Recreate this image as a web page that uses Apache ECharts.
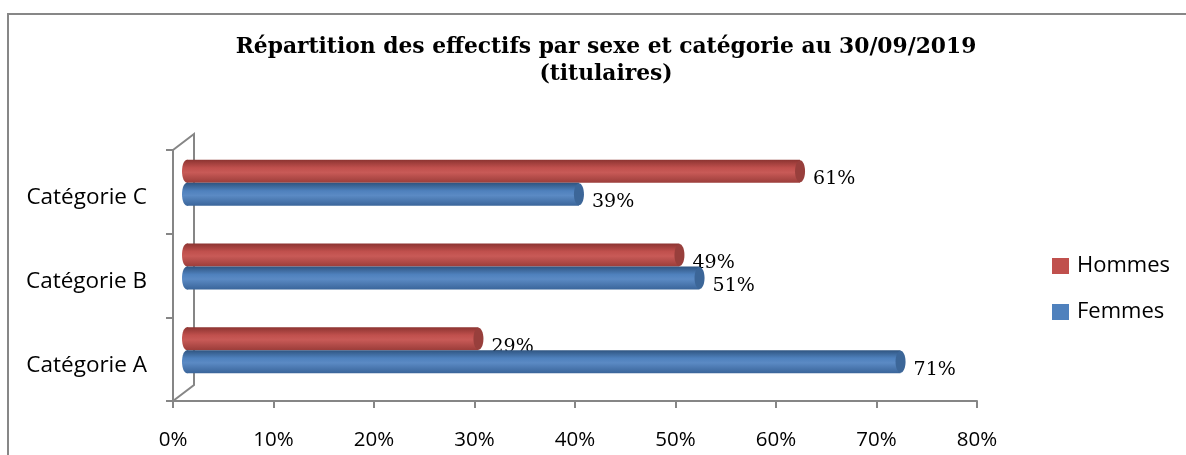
<!DOCTYPE html>
<html>
<head>
    <meta charset="utf-8">
    <title>Effectifs par sexe</title>
    <script src="https://cdn.jsdelivr.net/npm/echarts@6/dist/echarts.min.js"></script>
    <style>
        html, body { margin: 0; padding: 0; background: #fff; }
        #box { width: 1186px; height: 455px; }
    </style>
</head>
<body>
    <div id="box"></div>
    <script>
        // donnees
        var categories = ['Catégorie A', 'Catégorie B', 'Catégorie C'];
        var femmes = [71, 51, 39];
        var hommes = [29, 49, 61];
        var xTicks = [0, 10, 20, 30, 40, 50, 60, 70, 80];

        // cadre de l'axe (face avant) et decalage 3D
        var G = { left: 173, top: 150, width: 804, height: 251 };
        var DX = 14, DY = -9;     // decalage des barres
        var WX = 21, WY = -16;    // profondeur du mur
        var BAR_H = 23;

        var palette = {
            Hommes: { top: '#8c3431', mid: '#c0504d', light: '#c85a57', bottom: '#9b3d3a', cap: '#983f3c' },
            Femmes: { top: '#2f5480', mid: '#4f81bd', light: '#5b8ac4', bottom: '#3a659a', cap: '#3c6698' }
        };

        function makeRender(name, shift) {
            var c = palette[name];
            return function (params, api) {
                var idx = api.value(0);
                var val = api.value(1);
                var p0 = api.coord([0, idx]);
                var p1 = api.coord([val, idx]);
                var cy = p0[1] + shift;
                var grad = new echarts.graphic.LinearGradient(0, 0, 0, 1, [
                    { offset: 0, color: c.top },
                    { offset: 0.35, color: c.mid },
                    { offset: 0.55, color: c.light },
                    { offset: 1, color: c.bottom }
                ]);
                return {
                    type: 'group',
                    children: [
                        { type: 'ellipse', shape: { cx: p0[0], cy: cy, rx: 5, ry: BAR_H / 2 }, style: { fill: grad } },
                        { type: 'rect', shape: { x: p0[0], y: cy - BAR_H / 2, width: p1[0] - p0[0], height: BAR_H }, style: { fill: grad } },
                        { type: 'ellipse', shape: { cx: p1[0], cy: cy, rx: 5, ry: BAR_H / 2 - 0.5 }, style: { fill: c.cap } },
                        {
                            type: 'text',
                            style: {
                                x: p1[0] + 13, y: cy + 8,
                                text: val + '%',
                                fill: '#000',
                                font: '19px "DejaVu Serif", serif',
                                verticalAlign: 'middle', align: 'left'
                            }
                        }
                    ]
                };
            };
        }

        function toData(arr) {
            return arr.map(function (v, i) { return [i, v]; });
        }

        var axisGray = '#868686';
        var sans = '"Open Sans", sans-serif';
        var myChart = echarts.init(document.getElementById('box'));
        var option = {
            animation: false,
            title: {
                text: 'Répartition des effectifs par sexe et catégorie au 30/09/2019\n(titulaires)',
                left: 601, top: 29, textAlign: 'center',
                textStyle: { fontFamily: '"DejaVu Serif", serif', fontWeight: 'bold', fontSize: 21.8, lineHeight: 27, color: '#000' }
            },
            legend: {
                orient: 'vertical',
                left: 1047, top: 250,
                itemWidth: 17, itemHeight: 16, itemGap: 24,
                icon: 'rect',
                data: ['Hommes', 'Femmes'],
                textStyle: { fontFamily: sans, fontSize: 22, color: '#000', padding: [0, 0, 0, 3] }
            },
            graphic: [
                // cadre du graphique
                { type: 'rect', shape: { x: 8, y: 14, width: 1200, height: 460 }, style: { fill: null, stroke: '#878787', lineWidth: 2 }, z: 0 },
                // mur du fond
                { type: 'polyline', shape: { points: [[G.left, G.top], [G.left + WX, G.top + WY], [G.left + WX, G.top + G.height + WY], [G.left, G.top + G.height]] },
                  style: { fill: null, stroke: axisGray, lineWidth: 2 }, z: 1 }
            ],
            grid: [
                { left: G.left, top: G.top, width: G.width, height: G.height },
                { left: G.left + DX, top: G.top + DY, width: G.width, height: G.height }
            ],
            xAxis: [{
                gridIndex: 0, type: 'value', min: 0, max: 80, interval: 10,
                axisLine: { show: true, lineStyle: { color: axisGray, width: 2 } },
                axisTick: { show: true, length: 7, lineStyle: { color: axisGray, width: 2 } },
                splitLine: { show: false },
                axisLabel: {
                    margin: 29, color: '#000', fontSize: 20.5, fontFamily: sans,
                    formatter: function (v) { return xTicks.indexOf(v) >= 0 ? v + '%' : ''; }
                }
            }, {
                gridIndex: 1, type: 'value', min: 0, max: 80, interval: 10, show: false
            }],
            yAxis: [{
                gridIndex: 0, type: 'category', data: categories,
                axisLine: { show: true, lineStyle: { color: axisGray, width: 2 } },
                axisTick: { show: true, length: 7, lineStyle: { color: axisGray, width: 2 } },
                axisLabel: { margin: 26, color: '#000', fontSize: 22.5, fontFamily: sans, verticalAlign: 'top', lineHeight: 12 }
            }, {
                gridIndex: 1, type: 'category', data: categories, show: false
            }],
            series: [{
                name: 'Hommes', type: 'custom', xAxisIndex: 1, yAxisIndex: 1,
                itemStyle: { color: '#c0504d' },
                renderItem: makeRender('Hommes', -BAR_H / 2),
                data: toData(hommes), z: 3
            }, {
                name: 'Femmes', type: 'custom', xAxisIndex: 1, yAxisIndex: 1,
                itemStyle: { color: '#4f81bd' },
                renderItem: makeRender('Femmes', BAR_H / 2),
                data: toData(femmes), z: 3
            }]
        };
        myChart.setOption(option);
    </script>
</body>
</html>
